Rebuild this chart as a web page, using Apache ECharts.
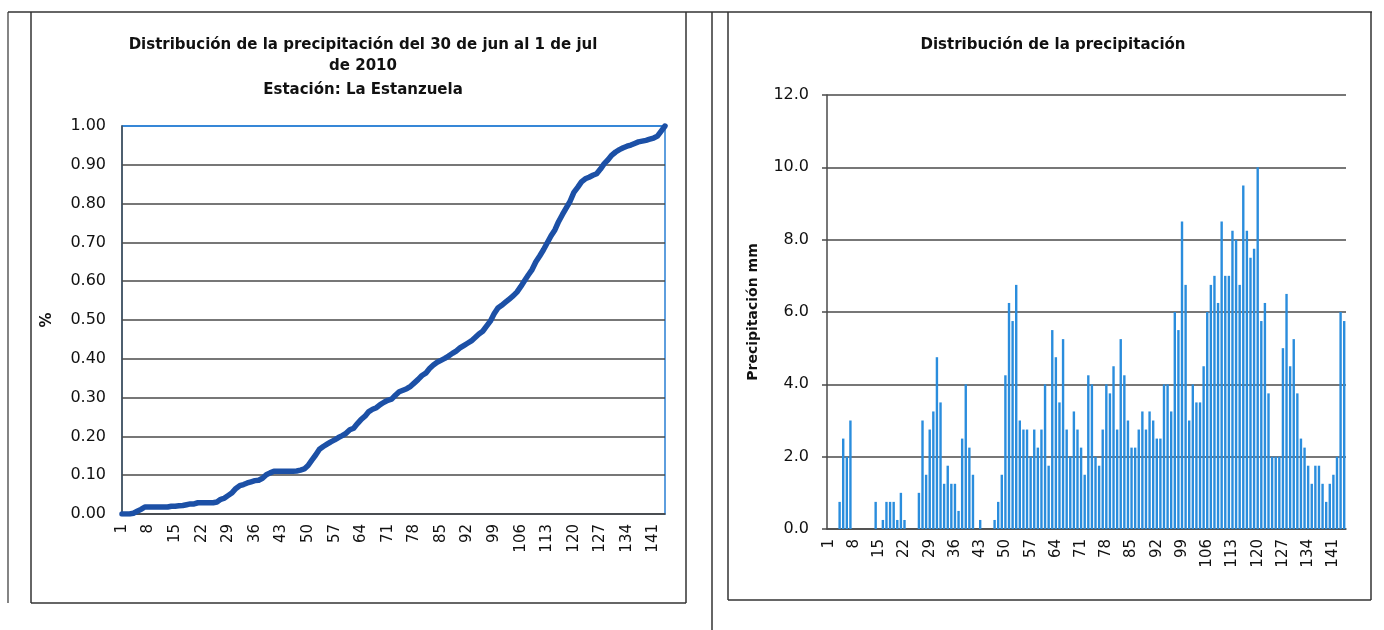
<!DOCTYPE html>
<html>
<head>
<meta charset="utf-8">
<script src="https://cdn.jsdelivr.net/npm/echarts@6/dist/echarts.min.js"></script>
<style>
html,body{margin:0;padding:0;background:#fff;}
#chart{width:1384px;height:630px;}
</style>
</head>
<body>
<div id="chart"></div>
<script>
// Interval numbers (10-minute steps) 1..144
const categories = Array.from({length: 144}, (_, i) => String(i + 1));

// Precipitation per interval (mm)
const precipitation = [
  0, 0, 0, 0.75, 2.5, 2.0, 3.0, 0, 0, 0,
  0, 0, 0, 0.75, 0, 0.25, 0.75, 0.75, 0.75, 0.25,
  1.0, 0.25, 0, 0, 0, 1.0, 3.0, 1.5, 2.75, 3.25,
  4.75, 3.5, 1.25, 1.75, 1.25, 1.25, 0.5, 2.5, 4.0, 2.25,
  1.5, 0, 0.25, 0, 0, 0, 0.25, 0.75, 1.5, 4.25,
  6.25, 5.75, 6.75, 3.0, 2.75, 2.75, 2.0, 2.75, 2.25, 2.75,
  4.0, 1.75, 5.5, 4.75, 3.5, 5.25, 2.75, 2.0, 3.25, 2.75,
  2.25, 1.5, 4.25, 4.0, 2.0, 1.75, 2.75, 4.0, 3.75, 4.5,
  2.75, 5.25, 4.25, 3.0, 2.25, 2.25, 2.75, 3.25, 2.75, 3.25,
  3.0, 2.5, 2.5, 4.0, 4.0, 3.25, 6.0, 5.5, 8.5, 6.75,
  3.0, 4.0, 3.5, 3.5, 4.5, 6.0, 6.75, 7.0, 6.25, 8.5,
  7.0, 7.0, 8.25, 8.0, 6.75, 9.5, 8.25, 7.5, 7.75, 10.0,
  5.75, 6.25, 3.75, 2.0, 2.0, 2.0, 5.0, 6.5, 4.5, 5.25,
  3.75, 2.5, 2.25, 1.75, 1.25, 1.75, 1.75, 1.25, 0.75, 1.25,
  1.5, 2.0, 6.0, 5.75
];

// Cumulative fraction of rainfall
const cumulative = [
  0, 0, 0, 0.002, 0.007, 0.012, 0.018, 0.018, 0.018, 0.018,
  0.018, 0.018, 0.018, 0.020, 0.020, 0.021, 0.022, 0.024, 0.026, 0.026,
  0.029, 0.029, 0.029, 0.029, 0.029, 0.031, 0.038, 0.041, 0.048, 0.055,
  0.066, 0.073, 0.076, 0.080, 0.083, 0.086, 0.087, 0.092, 0.101, 0.106,
  0.110, 0.110, 0.110, 0.110, 0.110, 0.110, 0.111, 0.113, 0.116, 0.125,
  0.139, 0.152, 0.167, 0.174, 0.180, 0.186, 0.191, 0.197, 0.202, 0.208,
  0.217, 0.221, 0.233, 0.244, 0.252, 0.264, 0.270, 0.274, 0.282, 0.288,
  0.293, 0.296, 0.306, 0.315, 0.319, 0.323, 0.329, 0.338, 0.347, 0.357,
  0.363, 0.375, 0.384, 0.391, 0.396, 0.401, 0.407, 0.414, 0.420, 0.428,
  0.434, 0.440, 0.446, 0.455, 0.464, 0.471, 0.484, 0.497, 0.516, 0.531,
  0.538, 0.546, 0.554, 0.562, 0.572, 0.586, 0.601, 0.616, 0.630, 0.650,
  0.665, 0.681, 0.699, 0.717, 0.732, 0.754, 0.772, 0.789, 0.806, 0.829,
  0.842, 0.856, 0.864, 0.868, 0.873, 0.877, 0.889, 0.903, 0.913, 0.925,
  0.933, 0.939, 0.944, 0.948, 0.951, 0.955, 0.959, 0.961, 0.963, 0.966,
  0.969, 0.974, 0.987, 1.000
];

const leftTitleLines = ['Distribución de la precipitación del 30 de jun al 1 de jul', 'de 2010', 'Estación: La Estanzuela'];
const rightTitle = 'Distribución de la precipitación';
const leftYName = '%';
const rightYName = 'Precipitación mm';

const FONT = 'DejaVu Sans';
const TITLE_FONT = 'DejaVu Sans';
const GRID_COLOR = '#4a4a4a';
const textColor = '#111';

const leftSplitColors = Array.from({length: 11}, (_, i) => i === 10 ? '#2a7fd4' : GRID_COLOR);

const chart = echarts.init(document.getElementById('chart'), null, {renderer: 'canvas'});

const titleStyle = {fontFamily: TITLE_FONT, fontSize: 15, fontWeight: 'bold', color: textColor};

chart.setOption({
  animation: false,
  backgroundColor: '#fff',
  title: [
    {text: leftTitleLines[0], left: 358, top: 33, textAlign: 'center', textStyle: titleStyle},
    {text: leftTitleLines[1], left: 358, top: 54, textAlign: 'center', textStyle: titleStyle},
    {text: leftTitleLines[2], left: 358, top: 78, textAlign: 'center', textStyle: titleStyle},
    {text: rightTitle, left: 1048, top: 33, textAlign: 'center', textStyle: titleStyle}
  ],
  graphic: [
    {type: 'line', shape: {x1: 8, y1: 12, x2: 1372, y2: 12}, style: {stroke: '#333', lineWidth: 1.5}, silent: true},
    {type: 'line', shape: {x1: 8, y1: 12, x2: 8, y2: 603}, style: {stroke: '#333', lineWidth: 1.2}, silent: true},
    {type: 'line', shape: {x1: 31, y1: 12, x2: 31, y2: 603}, style: {stroke: '#333', lineWidth: 1.5}, silent: true},
    {type: 'line', shape: {x1: 31, y1: 603, x2: 686, y2: 603}, style: {stroke: '#333', lineWidth: 1.5}, silent: true},
    {type: 'line', shape: {x1: 686, y1: 12, x2: 686, y2: 603}, style: {stroke: '#333', lineWidth: 1.5}, silent: true},
    {type: 'line', shape: {x1: 712, y1: 12, x2: 712, y2: 630}, style: {stroke: '#333', lineWidth: 1.5}, silent: true},
    {type: 'line', shape: {x1: 728, y1: 12, x2: 728, y2: 600}, style: {stroke: '#333', lineWidth: 1.5}, silent: true},
    {type: 'line', shape: {x1: 728, y1: 600, x2: 1371, y2: 600}, style: {stroke: '#333', lineWidth: 1.5}, silent: true},
    {type: 'line', shape: {x1: 1371, y1: 12, x2: 1371, y2: 600}, style: {stroke: '#333', lineWidth: 1.5}, silent: true}
  ],
  grid: [
    {left: 122, top: 126, width: 543, height: 388, show: true, borderColor: '#2a7fd4', borderWidth: 1.5, backgroundColor: 'transparent'},
    {left: 827, top: 95, width: 519, height: 434}
  ],
  xAxis: [
    {
      type: 'category', gridIndex: 0, data: categories, boundaryGap: false, z: 5,
      axisLine: {lineStyle: {color: GRID_COLOR, width: 1.5}},
      axisTick: {show: false},
      axisLabel: {interval: 6, rotate: 90, fontFamily: FONT, fontSize: 15, color: textColor, margin: 10}
    },
    {
      type: 'category', gridIndex: 1, data: categories, boundaryGap: true, z: 5,
      axisLine: {lineStyle: {color: GRID_COLOR, width: 1.5}},
      axisTick: {show: false},
      axisLabel: {interval: 6, rotate: 90, fontFamily: FONT, fontSize: 15, color: textColor, margin: 10}
    }
  ],
  yAxis: [
    {
      type: 'value', gridIndex: 0, min: 0, max: 1, interval: 0.1, z: 5,
      name: leftYName, nameLocation: 'middle', nameGap: 67,
      nameTextStyle: {fontFamily: FONT, fontSize: 15, fontWeight: 'bold', color: textColor},
      axisLine: {show: true, lineStyle: {color: GRID_COLOR, width: 1.5}},
      axisTick: {show: false},
      splitLine: {show: true, lineStyle: {color: leftSplitColors, width: 1.5}},
      axisLabel: {fontFamily: FONT, fontSize: 16, color: textColor, margin: 16, formatter: v => v.toFixed(2)}
    },
    {
      type: 'value', gridIndex: 1, min: 0, max: 12, interval: 2, z: 5,
      name: rightYName, nameLocation: 'middle', nameGap: 67,
      nameTextStyle: {fontFamily: FONT, fontSize: 14, fontWeight: 'bold', color: textColor},
      axisLine: {show: true, lineStyle: {color: GRID_COLOR, width: 1.5}},
      axisTick: {show: true, length: 5, lineStyle: {color: GRID_COLOR, width: 1.5}},
      splitLine: {show: true, lineStyle: {color: GRID_COLOR, width: 1.5}},
      axisLabel: {fontFamily: FONT, fontSize: 16, color: textColor, margin: 18, formatter: v => v.toFixed(1)}
    }
  ],
  series: [
    {
      type: 'line', xAxisIndex: 0, yAxisIndex: 0, data: cumulative,
      showSymbol: false, smooth: false, z: 10,
      lineStyle: {color: '#1c50a6', width: 5.5, cap: 'round', join: 'round'}
    },
    {
      type: 'bar', xAxisIndex: 1, yAxisIndex: 1, data: precipitation,
      barWidth: 2.4, z: 10,
      itemStyle: {color: '#2a8ddd'}
    }
  ]
});
</script>
</body>
</html>
